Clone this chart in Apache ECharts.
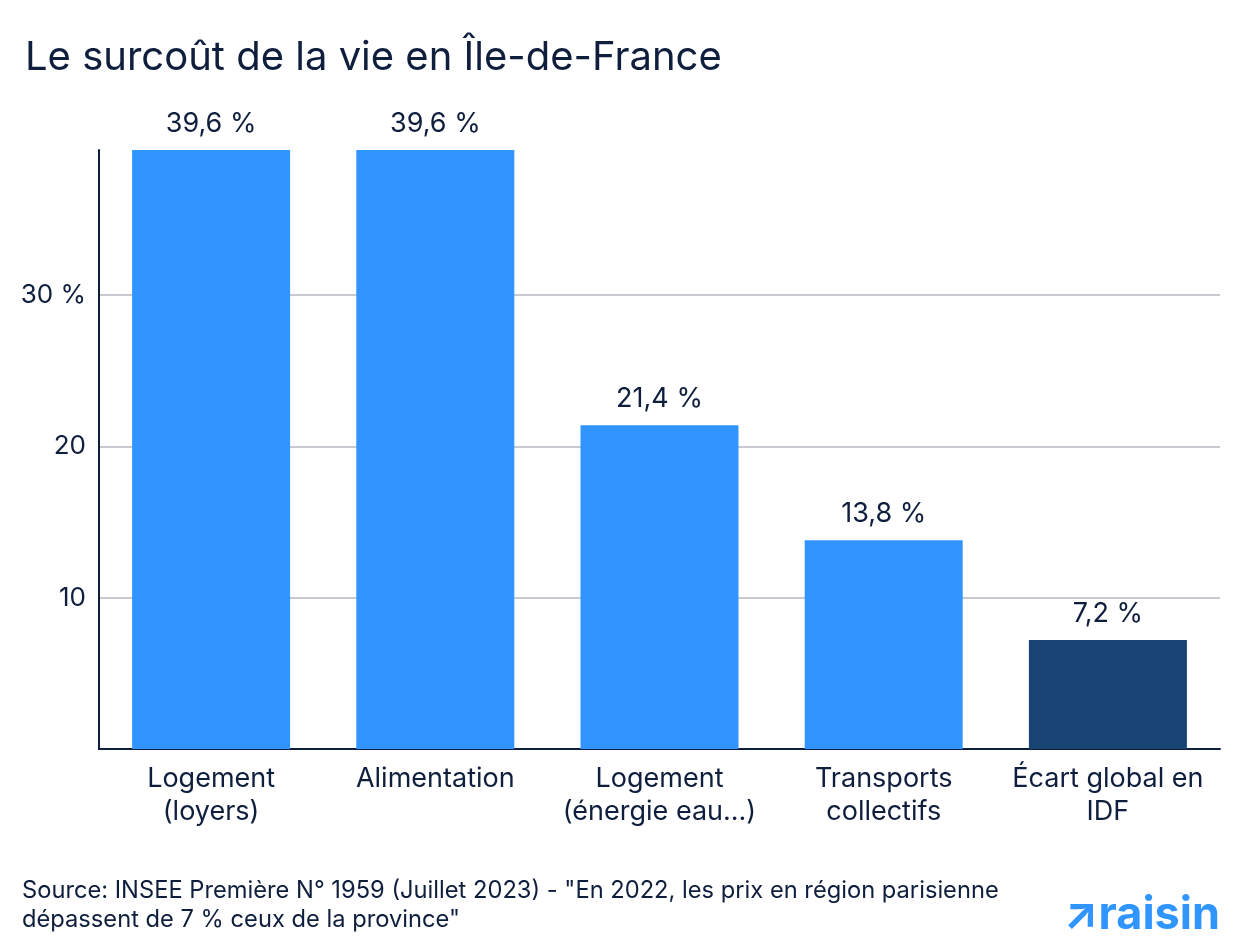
<!DOCTYPE html>
<html>
<head>
<meta charset="utf-8">
<script src="https://cdn.jsdelivr.net/npm/echarts@6/dist/echarts.min.js"></script>
<style>
html, body { margin: 0; padding: 0; background: #fff; }
#main { width: 1240px; height: 952px; }
</style>
</head>
<body>
<div id="main"></div>
<script>
var categories = ['Logement\n(loyers)', 'Alimentation', 'Logement\n(énergie eau...)', 'Transports\ncollectifs', 'Écart global en\nIDF'];
var values = [39.6, 39.6, 21.4, 13.8, 7.2];
var barColors = ['#3095ff', '#3095ff', '#3095ff', '#3095ff', '#184474'];
var yTicks = [10, 20, 30];

var ink = '#0e1e3c';
var font = 'Inter';

var myChart = echarts.init(document.getElementById('main'));

var option = {
    backgroundColor: '#fff',
    textStyle: { fontFamily: font },
    title: {
        text: 'Le surcoût de la vie en Île-de-France',
        left: 20,
        top: 33,
        textStyle: { color: ink, fontSize: 40, fontWeight: 'normal', fontFamily: font }
    },
    grid: { left: 99, right: 20, top: 150, bottom: 203 },
    xAxis: {
        type: 'category',
        data: categories,
        axisLine: { lineStyle: { color: ink, width: 2 } },
        axisTick: { show: false },
        axisLabel: { color: ink, fontSize: 27, lineHeight: 33, margin: 13, interval: 0 }
    },
    yAxis: {
        type: 'value',
        min: 0,
        max: 39.6,
        interval: 10,
        axisLine: { show: true, lineStyle: { color: ink, width: 2 } },
        axisTick: { show: false },
        splitLine: { show: true, showMinLine: false, showMaxLine: false, lineStyle: { color: '#c8cad2', width: 2 } },
        axisLabel: {
            color: ink, fontSize: 26, margin: 13,
            showMinLabel: false, showMaxLabel: false,
            formatter: function (v) {
                if (yTicks.indexOf(v) < 0) return '';
                return v === 30 ? v + ' %' : String(v);
            }
        }
    },
    series: [{
        type: 'bar',
        barWidth: 158,
        data: values.map(function (v, i) {
            return { value: v, itemStyle: { color: barColors[i] } };
        }),
        label: {
            show: true,
            position: 'top',
            distance: 13,
            color: ink,
            fontSize: 27,
            textBorderColor: '#fff',
            textBorderWidth: 3,
            formatter: function (p) {
                return String(p.value).replace('.', ',') + ' %';
            }
        }
    }],
    graphic: [
        {
            type: 'text', left: 22, top: 876,
            style: {
                text: 'Source: INSEE Première N° 1959 (Juillet 2023) - "En 2022, les prix en région parisienne\ndépassent de 7 % ceux de la province"',
                fill: ink, font: '23.7px ' + font, lineHeight: 29
            }
        },
        {
            type: 'text', right: 20, top: 893,
            style: {
                text: '↗raisin',
                fill: '#3095ff', font: 'bold 45px ' + font
            }
        }
    ]
};

myChart.setOption(option);
</script>
</body>
</html>
